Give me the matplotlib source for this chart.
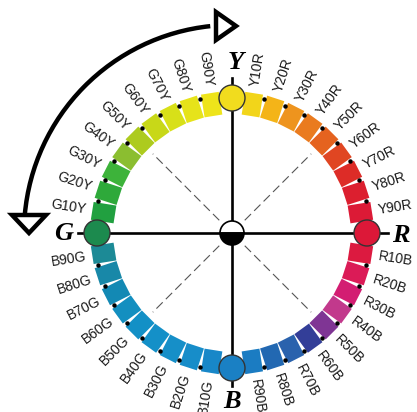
import numpy as np
import matplotlib
matplotlib.use("Agg")
import matplotlib.pyplot as plt
from matplotlib.patches import Rectangle, Circle, Wedge, Arc, Polygon

# NCS hue circle: the 4 elementary hues and the 9 steps between each pair
primaries = ["Y", "R", "B", "G"]
primary_colors = ["#f1dc1e", "#dc1838", "#1a80c4", "#1c8a4e"]

steps = [
    ["Y10R", "Y20R", "Y30R", "Y40R", "Y50R", "Y60R", "Y70R", "Y80R", "Y90R"],
    ["R10B", "R20B", "R30B", "R40B", "R50B", "R60B", "R70B", "R80B", "R90B"],
    ["B10G", "B20G", "B30G", "B40G", "B50G", "B60G", "B70G", "B80G", "B90G"],
    ["G10Y", "G20Y", "G30Y", "G40Y", "G50Y", "G60Y", "G70Y", "G80Y", "G90Y"],
]
step_colors = [
    ["#f2d51a", "#f4b418", "#ee941e", "#ea7b1f", "#e5631f", "#e04622", "#dd2c27", "#dc1f2f", "#dc1a36"],
    ["#dc1a40", "#db1b57", "#d31d72", "#c2398c", "#7f3594", "#333e98", "#2a62ad", "#2268b2", "#1b7cc2"],
    ["#1887c8", "#178dc9", "#168fc8", "#1490c8", "#1390c6", "#138fc0", "#1389b4", "#1888a8", "#1c8a96"],
    ["#21a040", "#2ea93a", "#3db33a", "#8bbe30", "#adcb1e", "#c8d818", "#d8e018", "#e6e31a", "#eee41a"],
]

W, H = 417, 412
cx, cy = 232, 179
R = 135

fig = plt.figure(figsize=(W / 100, H / 100), dpi=100)
ax = fig.add_axes([0, 0, 1, 1])
ax.set_xlim(0, W)
ax.set_ylim(0, H)
ax.set_aspect("equal")
ax.axis("off")


def pos(r, deg):
    t = np.radians(deg)
    return cx + r * np.cos(t), cy + r * np.sin(t)


# crosshair
ax.plot([78, 388], [cy, cy], color="black", lw=1.9, zorder=2)
ax.plot([cx, cx], [412 - 78, 412 - 386], color="black", lw=1.9, zorder=2)

# dashed diagonals
for a in [45, 135, 225, 315]:
    x0, y0 = pos(18, a)
    x1, y1 = pos(112, a)
    ax.plot([x0, x1], [y0, y1], color="#555555", lw=0.8, ls=(0, (8, 4)), zorder=1)

# centre grey-scale disc
ax.add_patch(Wedge((cx, cy), 12, 0, 180, facecolor="white", edgecolor="black", lw=1.2, zorder=5))
ax.add_patch(Wedge((cx, cy), 12, 180, 360, facecolor="black", edgecolor="black", lw=1.2, zorder=5))

# primaries and steps
prim_angles = [90, 0, -90, -180]
for k in range(4):
    a0 = prim_angles[k]
    x, y = pos(R, a0)
    ax.add_patch(Circle((x, y), 13, facecolor=primary_colors[k], edgecolor="#333333", lw=1.0, zorder=6))
    for i in range(9):
        a = a0 - 9 * (i + 1)
        x, y = pos(130, a)
        ax.add_patch(Rectangle((x - 11.5, y - 9), 23, 18, angle=a, rotation_point="center",
                               facecolor=step_colors[k][i], edgecolor="none", zorder=4))
        if i < 8:
            dx, dy = pos(138, a - 4.5)
            ax.plot(dx, dy, "o", color="black", ms=2.2, zorder=5)
        tx, ty = pos(148, a)
        c = np.cos(np.radians(a))
        if c >= -1e-6:
            rot, ha = a, "left"
        else:
            rot, ha = a + 180, "right"
        ax.text(tx, ty, steps[k][i], rotation=rot, rotation_mode="anchor", ha=ha, va="center",
                fontsize=10, family="Liberation Sans", color="#1a1a1a", zorder=7)

# primary letters
serif = dict(family="Liberation Serif", style="italic", weight="bold", fontsize=19, color="black")
ax.text(cx + 4, 412 - 62, "Y", ha="center", va="center", **serif)
ax.text(401, cy - 2, "R", ha="center", va="center", **serif)
ax.text(cx, 412 - 401, "B", ha="center", va="center", **serif)
ax.text(64, cy, "G", ha="center", va="center", **serif)

# big double arrow arc (hue direction)
ax.add_patch(Arc((cx, cy), 2 * 208, 2 * 208, theta1=96, theta2=175, color="black", lw=3.2, zorder=3))
ax.add_patch(Polygon([[216, 412 - 12], [216, 412 - 40], [236, 412 - 26]], closed=True,
                     facecolor="white", edgecolor="black", lw=3.2, joinstyle="miter", zorder=4))
ax.add_patch(Polygon([[12, 412 - 215], [46, 412 - 215], [29, 412 - 233]], closed=True,
                     facecolor="white", edgecolor="black", lw=3.2, joinstyle="miter", zorder=4))

fig.savefig("out.png", dpi=100)
